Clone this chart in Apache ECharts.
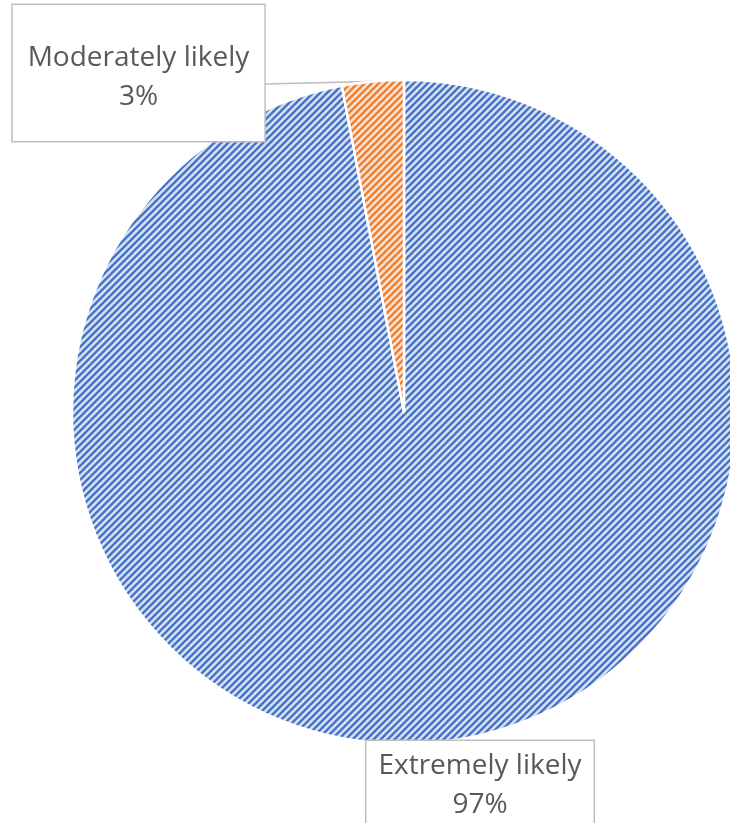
<!DOCTYPE html>
<html>
<head>
<meta charset="utf-8">
<script src="https://cdn.jsdelivr.net/npm/echarts@6/dist/echarts.min.js"></script>
<style>
  html, body { margin: 0; padding: 0; background: #fff; }
  #chart { width: 730px; height: 823px; }
</style>
</head>
<body>
<div id="chart"></div>
<script>
  // data
  const categories = ['Extremely likely', 'Moderately likely'];
  const values = [97, 3];

  // hatch fill like the office "dark upward diagonal" pattern
  function hatch(bg, fg) {
    const s = 7;
    const c = document.createElement('canvas');
    c.width = s;
    c.height = s;
    const ctx = c.getContext('2d');
    ctx.fillStyle = bg;
    ctx.fillRect(0, 0, s, s);
    ctx.strokeStyle = fg;
    ctx.lineWidth = 2.3;
    ctx.beginPath();
    ctx.moveTo(-1, 1); ctx.lineTo(1, -1);
    ctx.moveTo(0, s); ctx.lineTo(s, 0);
    ctx.moveTo(s - 1, s + 1); ctx.lineTo(s + 1, s - 1);
    ctx.stroke();
    return { image: c, repeat: 'repeat' };
  }

  const fills = [hatch('#d6e0f4', '#4472c4'), hatch('#fbe1d0', '#ed7d31')];

  const labelBox = {
    show: true,
    position: 'outside',
    formatter: '{b}\n{d}%',
    fontFamily: 'Open Sans',
    fontSize: 28,
    lineHeight: 39,
    color: '#595959',
    backgroundColor: '#fff',
    borderColor: '#bfbfbf',
    borderWidth: 1.5
  };

  const chart = echarts.init(document.getElementById('chart'));
  chart.setOption({
    animation: false,
    series: [{
      type: 'pie',
      center: [404, 412],
      radius: 332,
      startAngle: 90,
      clockwise: true,
      data: categories.map((name, i) => ({
        name: name,
        value: values[i],
        itemStyle: { color: fills[i] },
        label: Object.assign({}, labelBox,
          i === 0 ? { padding: [6, 12, 40, 12] } : { padding: [34, 15, 24, 15] }),
        labelLine: { show: i === 1 }
      })),
      itemStyle: { borderColor: '#fff', borderWidth: 2.5 },
      labelLine: {
        minTurnAngle: 0,
        maxSurfaceAngle: 180,
        lineStyle: { color: '#bfbfbf', width: 1.5 }
      },
      labelLayout: function (params) {
        if (params.dataIndex === 0) {
          return { x: 480, y: 741, align: 'center', verticalAlign: 'top' };
        }
        const tip = params.labelLinePoints[0];
        return {
          x: 138.5, y: 5, align: 'center', verticalAlign: 'top',
          // callout pointer: box edge -> slice -> box edge
          labelLinePoints: [tip, [265, 118], tip, [265, 84]]
        };
      }
    }]
  });
</script>
</body>
</html>
